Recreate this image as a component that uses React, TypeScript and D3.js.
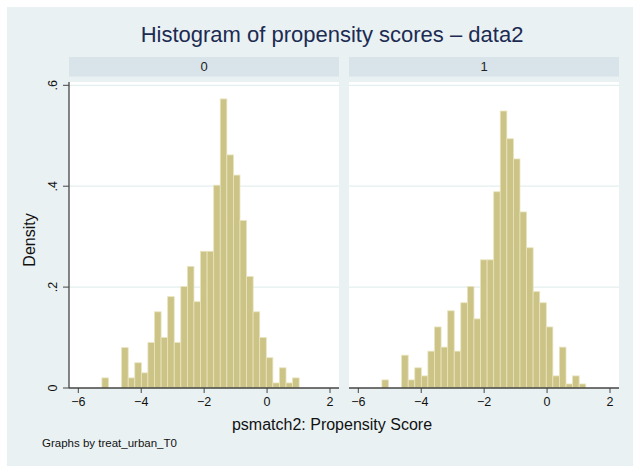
import React from "react";
import * as d3 from "d3";

const binStart = -5.25;
const binWidth = 0.209;
const panels = ["0", "1"];
// densities per bin (31 bins starting at binStart)
const density0 = [0.020, 0, 0, 0.080, 0.020, 0.050, 0.030, 0.090, 0.151, 0.100, 0.181, 0.090, 0.201, 0.241, 0.171, 0.271, 0.271, 0.402, 0.573, 0.462, 0.422, 0.332, 0.221, 0.151, 0.100, 0.060, 0.010, 0.040, 0.010, 0.020, 0];
const density1 = [0.016, 0, 0, 0.065, 0.016, 0.040, 0.024, 0.073, 0.121, 0.081, 0.153, 0.073, 0.169, 0.201, 0.137, 0.254, 0.254, 0.389, 0.549, 0.494, 0.454, 0.349, 0.278, 0.191, 0.169, 0.121, 0.024, 0.081, 0.008, 0.024, 0.008];
const xTicks = [-6, -4, -2, 0, 2];
const yTicks = [0, 0.2, 0.4, 0.6];
const yTickLabels = ["0", ".2", ".4", ".6"];
const title = "Histogram of propensity scores \u2013 data2";
const xTitle = "psmatch2: Propensity Score";
const yTitle = "Density";
const note = "Graphs by treat_urban_T0";

const FONT = "'Liberation Sans', Arial, Helvetica, sans-serif";

export default function App() {
  const W = 633, H = 466;
  const panelLeft = [69, 349];
  const panelW = 270;
  const plotTop = 82;
  const y = d3.scaleLinear().domain([0, 0.6]).range([388, 85.3]);
  const data = [density0, density1];
  return (
    <svg width={W} height={H} style={{ position: "absolute", left: 0, top: 0, display: "block" }} fontFamily={FONT}>
      <rect x={0} y={0} width={W} height={H} fill="#ffffff" />
      <rect x={7} y={7} width={W - 7} height={H - 7} fill="#eaf1f3" />
      <text x={332} y={42} textAnchor="middle" fontSize={22} fill="#1c2b52">{title}</text>
      {panels.map((p, pi) => {
        const left = panelLeft[pi];
        const x = d3.scaleLinear().domain([-6, 2]).range([left + 9.3, left + 261]);
        const dens = data[pi];
        return (
          <g key={p}>
            <rect x={left} y={57} width={panelW} height={19.5} fill="#d8e4ea" />
            <text x={left + panelW / 2} y={71} textAnchor="middle" fontSize={13} fill="#222">{p}</text>
            <rect x={left} y={plotTop} width={panelW} height={y(0) - plotTop} fill="#ffffff" />
            {yTicks.slice(1).map((t) => (
              <line key={t} x1={left} x2={left + panelW} y1={y(t)} y2={y(t)} stroke="#e4eeee" strokeWidth={1.2} />
            ))}
            {dens.map((d, i) =>
              d > 0 ? (
                <rect
                  key={i}
                  x={x(binStart + i * binWidth)}
                  y={y(d)}
                  width={x(binStart + (i + 1) * binWidth) - x(binStart + i * binWidth)}
                  height={y(0) - y(d)}
                  fill="#ccc387"
                  stroke="#e9e4bd"
                  strokeWidth={0.8}
                />
              ) : null
            )}
            <line x1={left} x2={left + panelW} y1={y(0)} y2={y(0)} stroke="#444" strokeWidth={1.3} />
            {xTicks.map((t) => (
              <g key={t}>
                <line x1={x(t)} x2={x(t)} y1={y(0)} y2={y(0) + 5} stroke="#444" strokeWidth={1} />
                <text x={x(t)} y={405.5} textAnchor="middle" fontSize={12.5} fill="#111">
                  {t < 0 ? "\u2212" + Math.abs(t) : String(t)}
                </text>
              </g>
            ))}
            {pi === 0 && (
              <g>
                <line x1={left} x2={left} y1={plotTop} y2={y(0)} stroke="#444" strokeWidth={1.3} />
                {yTicks.map((t, ti) => (
                  <g key={t}>
                    <line x1={left - 6} x2={left} y1={y(t)} y2={y(t)} stroke="#444" strokeWidth={1} />
                    <text
                      transform={`translate(${left - 12},${y(t)}) rotate(-90)`}
                      textAnchor="middle"
                      fontSize={12.5}
                      fill="#111"
                    >
                      {yTickLabels[ti]}
                    </text>
                  </g>
                ))}
              </g>
            )}
          </g>
        );
      })}
      <text transform={`translate(35,240) rotate(-90)`} textAnchor="middle" fontSize={16} fill="#111">{yTitle}</text>
      <text x={332} y={429.5} textAnchor="middle" fontSize={16} fill="#111">{xTitle}</text>
      <text x={42} y={447} fontSize={11.5} fill="#111">{note}</text>
    </svg>
  );
}
